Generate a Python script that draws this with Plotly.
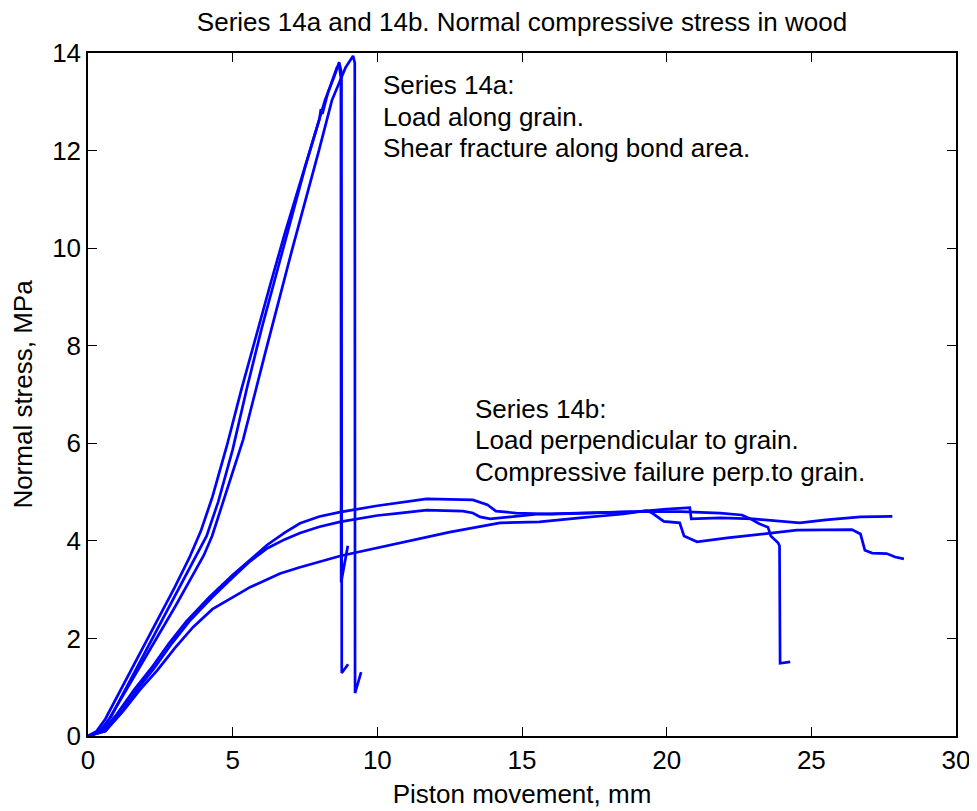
import plotly.graph_objects as go

# Series 14a (load along grain)
a1_x = [0, 0.3, 0.6, 1.0, 1.5, 2.0, 2.5, 3.0, 3.5, 3.9, 4.3, 4.8, 5.3, 5.8, 6.3, 6.8, 7.3, 7.7, 8.0, 8.05, 8.1,
        8.3, 8.5, 8.6, 8.68, 8.74, 8.75, 8.98]
a1_y = [0, 0.1, 0.35, 0.8, 1.35, 1.9, 2.47, 3.05, 3.65, 4.2, 4.9, 5.95, 7.1, 8.2, 9.25, 10.3, 11.3, 12.1, 12.65,
        12.85, 12.75, 13.2, 13.55, 13.7, 13.75, 13.5, 3.15, 3.9]
a2_x = [0, 0.4, 0.8, 1.2, 1.7, 2.2, 2.7, 3.2, 3.7, 4.1, 4.5, 5.0, 5.5, 6.0, 6.5, 7.0, 7.5, 7.9, 8.2, 8.5, 8.68,
        8.76, 8.77, 8.99]
a2_y = [0, 0.1, 0.4, 0.85, 1.42, 1.97, 2.53, 3.1, 3.65, 4.1, 4.8, 5.87, 7.15, 8.35, 9.45, 10.55, 11.65, 12.45,
        13.05, 13.5, 13.81, 13.6, 1.29, 1.47]
a3_x = [0, 0.5, 1.0, 1.5, 2.0, 2.5, 3.0, 3.5, 4.0, 4.29, 4.8, 5.36, 6.15, 7.05, 7.98, 8.43, 8.9, 9.16, 9.22, 9.23,
        9.44]
a3_y = [0, 0.12, 0.62, 1.12, 1.62, 2.12, 2.64, 3.17, 3.7, 4.1, 5.05, 6.07, 7.91, 9.96, 12.0, 13.03, 13.7, 13.94,
        13.8, 0.88, 1.31]

# Series 14b (load perpendicular to grain)
b1_x = [0, 0.5, 1.0, 1.6, 2.2, 2.8, 3.4, 4.2, 5.0, 5.6, 6.2, 6.8, 7.33, 8.0, 8.71, 10.0, 10.78, 11.7, 13.3, 13.8,
        14.1, 14.8, 16.0, 17.5, 19.0, 20.0, 20.8, 20.85, 21.85, 23.0, 24.6, 25.5, 26.7, 27.8]
b1_y = [0, 0.1, 0.45, 0.95, 1.4, 1.9, 2.35, 2.85, 3.3, 3.62, 3.92, 4.17, 4.36, 4.5, 4.59, 4.72, 4.78, 4.86, 4.84,
        4.74, 4.61, 4.57, 4.55, 4.57, 4.6, 4.65, 4.68, 4.45, 4.47, 4.45, 4.37, 4.43, 4.49, 4.5]
b2_x = [0, 0.6, 1.1, 1.7, 2.3, 2.9, 3.5, 4.3, 5.0, 5.6, 6.2, 6.8, 7.33, 8.0, 8.71, 10.0, 10.78, 11.7, 12.96, 13.3,
        13.55, 13.9, 15.6, 17.5, 19.0, 20.5, 21.85, 22.6, 22.9, 23.2, 23.5, 23.6, 23.85, 23.9, 23.92, 24.27]
b2_y = [0, 0.1, 0.45, 0.95, 1.4, 1.9, 2.35, 2.85, 3.25, 3.58, 3.85, 4.03, 4.16, 4.29, 4.39, 4.52, 4.57, 4.63, 4.61,
        4.57, 4.49, 4.45, 4.55, 4.57, 4.6, 4.6, 4.57, 4.53, 4.45, 4.35, 4.28, 4.1, 3.96, 3.9, 1.49, 1.52]
b3_x = [0, 0.6, 1.2, 1.8, 2.4, 3.0, 3.63, 4.3, 5.25, 5.6, 6.64, 7.33, 8.71, 10.78, 12.5, 14.24, 15.6, 17.0, 18.5,
        19.3, 19.5, 19.9, 20.45, 20.6, 21.05, 22.1, 23.6, 24.5, 26.4, 26.7, 26.85, 27.1, 27.6, 27.9, 28.2]
b3_y = [0, 0.1, 0.5, 0.95, 1.35, 1.8, 2.23, 2.6, 2.93, 3.05, 3.33, 3.46, 3.69, 3.96, 4.18, 4.37, 4.39, 4.47, 4.55,
        4.62, 4.57, 4.4, 4.37, 4.1, 3.98, 4.06, 4.16, 4.22, 4.23, 4.14, 3.81, 3.75, 3.74, 3.67, 3.63]

curves = [(a1_x, a1_y), (a2_x, a2_y), (a3_x, a3_y), (b1_x, b1_y), (b2_x, b2_y), (b3_x, b3_y)]

note_14a = ["Series 14a:", "Load along grain.", "Shear fracture along bond area."]
note_14b = ["Series 14b:", "Load perpendicular to grain.", "Compressive failure perp.to grain."]

FONT = "Liberation Sans, Arial, sans-serif"
FS = 26

fig = go.Figure()
for xs, ys in curves:
    fig.add_trace(go.Scatter(x=xs, y=ys, mode="lines",
                             line=dict(color="#0000ff", width=2.7), showlegend=False))

# one annotation per text row so the row spacing matches
for i, txt in enumerate(note_14a):
    fig.add_annotation(x=10.13, y=13.34 - i * 0.645, text=txt, showarrow=False,
                       xanchor="left", yanchor="middle", font=dict(size=FS, color="black"))
for i, txt in enumerate(note_14b):
    fig.add_annotation(x=13.3, y=6.7 - i * 0.64, text=txt, showarrow=False,
                       xanchor="left", yanchor="middle", font=dict(size=FS, color="black"))

axis_style = dict(showline=True, linecolor="black", linewidth=1.5, mirror="ticks",
                  ticks="inside", ticklen=9, tickcolor="black", tickwidth=1,
                  showgrid=False, zeroline=False, automargin=False,
                  tickfont=dict(size=FS, color="black"))

fig.update_layout(
    width=977, height=811,
    plot_bgcolor="white", paper_bgcolor="white",
    font=dict(family=FONT, color="black"),
    title=dict(text="Series 14a and 14b. Normal compressive stress in wood",
               xref="paper", x=0.5, xanchor="center", y=0.994, yanchor="top", font=dict(size=FS)),
    margin=dict(l=80, r=29, t=45, b=83),
    xaxis=dict(range=[0, 30], tickvals=[0, 5, 10, 15, 20, 25, 30],
               title=dict(text="Piston movement, mm", font=dict(size=FS), standoff=11), **axis_style),
    yaxis=dict(range=[0, 14], tickvals=[0, 2, 4, 6, 8, 10, 12, 14],
               title=dict(text="Normal stress, MPa", font=dict(size=FS), standoff=13), **axis_style),
)

fig.write_html("out.html")
